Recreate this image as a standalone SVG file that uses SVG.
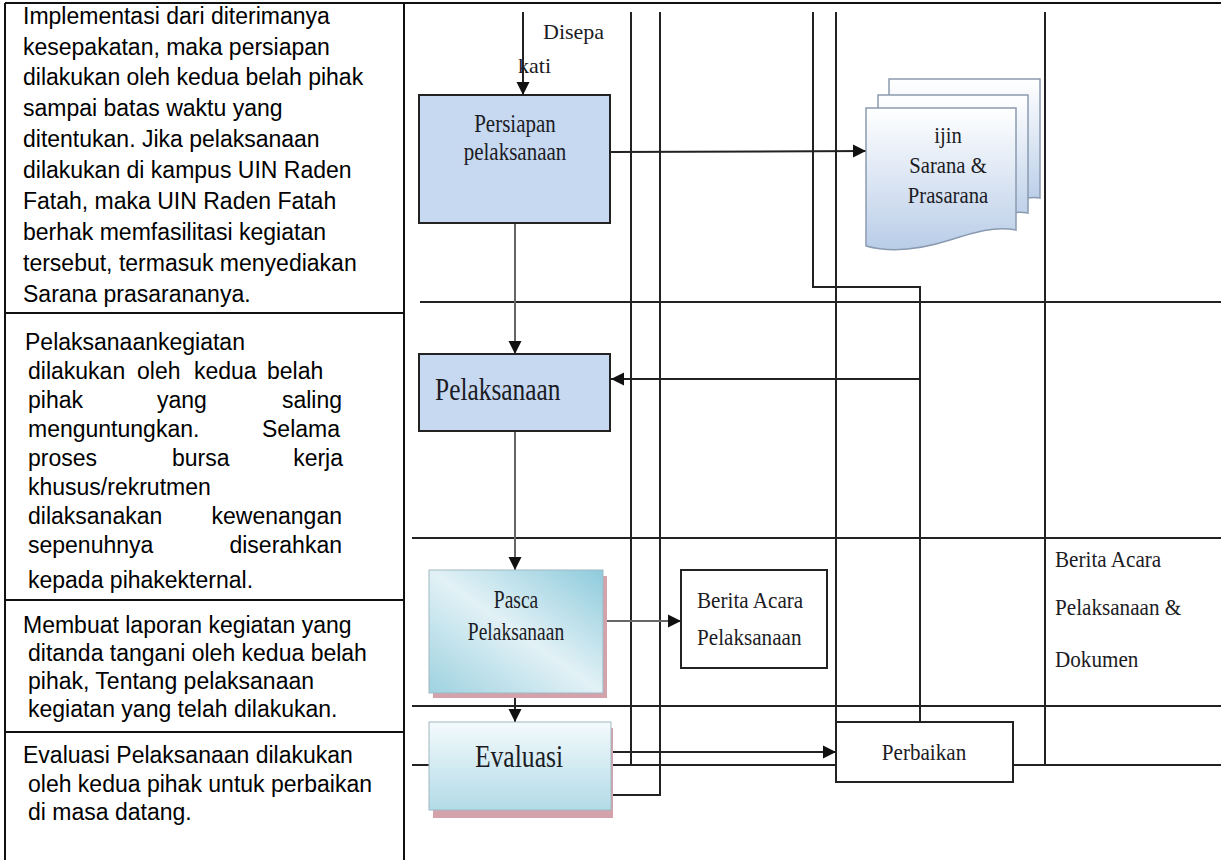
<svg xmlns="http://www.w3.org/2000/svg" width="1221" height="860" viewBox="0 0 1221 860">
<style>
.frame{stroke:#111;stroke-width:2;fill:none}
.lane{stroke:#222;stroke-width:2;fill:none}
.conn{stroke:#222;stroke-width:2;fill:none}
.flow{stroke:#666;stroke-width:2;fill:none}
.desc{font-family:"Liberation Sans",Arial,sans-serif;font-size:23px;fill:#000}
.lbl{font-family:"Liberation Serif","Times New Roman",serif;fill:#1b1b24}
.box{stroke:#222;stroke-width:2}
</style>
<defs>
<marker id="ah" markerWidth="14" markerHeight="14" refX="13" refY="7" orient="auto" markerUnits="userSpaceOnUse"><path d="M0,0.5 L13,7 L0,13.5 Z" fill="#111"/></marker>
<linearGradient id="gDoc" x1="0" y1="0" x2="0" y2="1"><stop offset="0" stop-color="#ffffff"/><stop offset="1" stop-color="#b9cde8"/></linearGradient>
<linearGradient id="gPasca" x1="1" y1="0" x2="0" y2="1"><stop offset="0" stop-color="#8ecbdc"/><stop offset="0.5" stop-color="#e2f1f6"/><stop offset="1" stop-color="#9ed2e0"/></linearGradient>
<linearGradient id="gEval" x1="0" y1="0" x2="0" y2="1"><stop offset="0" stop-color="#f4fafc"/><stop offset="1" stop-color="#b2dbe7"/></linearGradient>
</defs>

<g id="frame">
<line class="frame" x1="5" y1="3" x2="1221" y2="3"/>
<line class="frame" x1="5" y1="3" x2="5" y2="860"/>
<line class="frame" x1="404" y1="3" x2="404" y2="860"/>
<line class="frame" x1="5" y1="313" x2="404" y2="313"/>
<line class="frame" x1="5" y1="600" x2="404" y2="600"/>
<line class="frame" x1="5" y1="732" x2="404" y2="732"/>
</g>

<g id="desc-1" class="desc">
<text x="23" y="24">Implementasi dari diterimanya</text>
<text x="23" y="55">kesepakatan, maka persiapan</text>
<text x="23" y="85">dilakukan oleh kedua belah pihak</text>
<text x="23" y="116">sampai batas waktu yang</text>
<text x="23" y="147">ditentukan. Jika pelaksanaan</text>
<text x="23" y="178">dilakukan di kampus UIN Raden</text>
<text x="23" y="209">Fatah, maka UIN Raden Fatah</text>
<text x="23" y="240">berhak memfasilitasi kegiatan</text>
<text x="23" y="271">tersebut, termasuk menyediakan</text>
<text x="23" y="302">Sarana prasarananya.</text>
</g>

<g id="desc-2" class="desc">
<text x="25" y="350">Pelaksanaankegiatan</text>
<text y="379"><tspan x="28">dilakukan</tspan><tspan x="137">oleh</tspan><tspan x="194">kedua</tspan><tspan x="267">belah</tspan></text>
<text y="408"><tspan x="28">pihak</tspan><tspan x="157">yang</tspan></text>
<text x="342" y="408" text-anchor="end">saling</text>
<text x="28" y="437">menguntungkan.</text>
<text x="340" y="437" text-anchor="end">Selama</text>
<text y="466"><tspan x="28">proses</tspan><tspan x="172">bursa</tspan></text>
<text x="343" y="466" text-anchor="end">kerja</text>
<text x="28" y="495">khusus/rekrutmen</text>
<text x="28" y="524">dilaksanakan</text>
<text x="342" y="524" text-anchor="end">kewenangan</text>
<text x="28" y="553">sepenuhnya</text>
<text x="342" y="553" text-anchor="end">diserahkan</text>
<text x="28" y="588">kepada pihakekternal.</text>
</g>

<g id="desc-3" class="desc">
<text x="23" y="633">Membuat laporan kegiatan yang</text>
<text x="28" y="661">ditanda tangani oleh kedua belah</text>
<text x="28" y="689">pihak, Tentang pelaksanaan</text>
<text x="28" y="717">kegiatan yang telah dilakukan.</text>
</g>

<g id="desc-4" class="desc">
<text x="23" y="763">Evaluasi Pelaksanaan dilakukan</text>
<text x="28" y="792">oleh kedua pihak untuk perbaikan</text>
<text x="28" y="820">di masa datang.</text>
</g>

<g id="lanes">
<line class="lane" x1="420" y1="302" x2="1221" y2="302"/>
<line class="lane" x1="412" y1="538" x2="1221" y2="538"/>
<line class="lane" x1="412" y1="706" x2="1221" y2="706"/>
<line class="lane" x1="412" y1="765" x2="1221" y2="765"/>
</g>

<g id="connectors">
<line class="conn" x1="523" y1="12" x2="523" y2="95" marker-end="url(#ah)"/>
<polyline class="conn" points="631,12 631,765"/>
<polyline class="conn" points="660,12 660,795 611,795"/>
<polyline class="conn" points="813,12 813,287 920,287 920,722"/>
<polyline class="conn" points="836,12 836,722"/>
<polyline class="conn" points="1045,12 1045,765"/>
<line class="conn" x1="610" y1="152" x2="866" y2="151" marker-end="url(#ah)"/>
<line class="conn" x1="920" y1="379" x2="611" y2="379" marker-end="url(#ah)"/>
<line class="flow" x1="515" y1="223" x2="515" y2="354" marker-end="url(#ah)"/>
<line class="flow" x1="515" y1="431" x2="515" y2="570" marker-end="url(#ah)"/>
<line class="flow" x1="603" y1="621" x2="681" y2="621" marker-end="url(#ah)"/>
<line class="conn" x1="515" y1="693" x2="515" y2="722" marker-end="url(#ah)"/>
<line class="conn" x1="611" y1="752" x2="836" y2="752" marker-end="url(#ah)"/>
</g>

<g id="label-disepakati" class="lbl" font-size="22">
<text x="543" y="39">Disepa</text>
<text x="518" y="73">kati</text>
</g>

<g id="node-persiapan">
<rect class="box" x="419" y="95" width="191" height="128" fill="#c6d9f0"/>
<text class="lbl" font-size="25" text-anchor="middle" transform="translate(515,132) scale(0.84,1)">Persiapan</text>
<text class="lbl" font-size="25" text-anchor="middle" transform="translate(515,160) scale(0.84,1)">pelaksanaan</text>
</g>

<g id="node-ijin">
<path d="M889,79 H1040 V198 C1030,196 1020,200 1010,204 L889,204 Z" fill="url(#gDoc)" stroke="#8a9bb0" stroke-width="1.5"/>
<path d="M878,95 H1028 V213 C1010,210 990,218 970,224 L878,224 Z" fill="url(#gDoc)" stroke="#8a9bb0" stroke-width="1.5"/>
<path d="M866,108 H1016 V230 C995,226 975,232 950,240 C925,248 895,254 866,246 Z" fill="url(#gDoc)" stroke="#8a9bb0" stroke-width="1.5"/>
<text class="lbl" font-size="23" text-anchor="middle" transform="translate(948,143) scale(0.9,1)">ijin</text>
<text class="lbl" font-size="23" text-anchor="middle" transform="translate(948,173) scale(0.9,1)">Sarana &amp;</text>
<text class="lbl" font-size="23" text-anchor="middle" transform="translate(948,203) scale(0.9,1)">Prasarana</text>
</g>

<g id="node-pelaksanaan">
<rect class="box" x="419" y="354" width="191" height="77" fill="#c6d9f0"/>
<text class="lbl" font-size="31" transform="translate(435,400) scale(0.82,1)">Pelaksanaan</text>
</g>

<g id="node-pasca">
<rect x="433" y="576" width="174" height="122" fill="#d4a2aa"/>
<rect x="429" y="570" width="174" height="123" fill="url(#gPasca)" stroke="#9fb8c2" stroke-width="1"/>
<text class="lbl" font-size="25" text-anchor="middle" transform="translate(516,608) scale(0.78,1)">Pasca</text>
<text class="lbl" font-size="25" text-anchor="middle" transform="translate(516,640) scale(0.78,1)">Pelaksanaan</text>
</g>

<g id="node-berita">
<rect class="box" x="681" y="570" width="146" height="98" fill="#fff"/>
<text class="lbl" font-size="23" transform="translate(697,608) scale(0.92,1)">Berita Acara</text>
<text class="lbl" font-size="23" transform="translate(697,645) scale(0.92,1)">Pelaksanaan</text>
</g>

<g id="node-evaluasi">
<rect x="433" y="728" width="180" height="90" fill="#d4a2aa"/>
<rect x="429" y="722" width="182" height="88" fill="url(#gEval)" stroke="#9fb8c2" stroke-width="1"/>
<text class="lbl" font-size="32" text-anchor="middle" transform="translate(519,767) scale(0.8,1)">Evaluasi</text>
</g>

<g id="node-perbaikan">
<rect class="box" x="836" y="722" width="177" height="60" fill="#fff"/>
<text class="lbl" font-size="24" text-anchor="middle" transform="translate(924,760) scale(0.88,1)">Perbaikan</text>
</g>

<g id="label-dokumen" class="lbl" font-size="23">
<text transform="translate(1055,567) scale(0.92,1)">Berita Acara</text>
<text transform="translate(1055,615) scale(0.92,1)">Pelaksanaan &amp;</text>
<text transform="translate(1055,667) scale(0.92,1)">Dokumen</text>
</g>
</svg>
